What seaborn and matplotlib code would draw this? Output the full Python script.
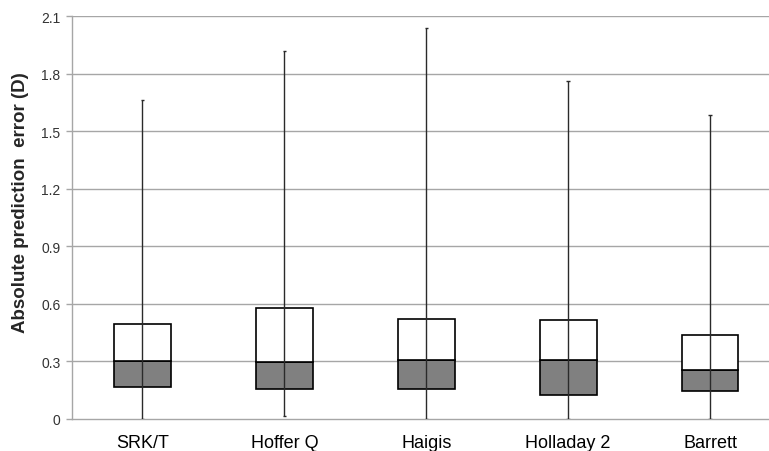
import numpy as np
import pandas as pd
import matplotlib
matplotlib.use("Agg")
import matplotlib.pyplot as plt
import seaborn as sns

categories = ["SRK/T", "Hoffer Q", "Haigis", "Holladay 2", "Barrett"]
q1 = [0.167, 0.158, 0.154, 0.125, 0.146]
median = [0.300, 0.295, 0.307, 0.307, 0.258]
q3 = [0.496, 0.581, 0.524, 0.515, 0.440]
mins = [0.0, 0.014, 0.0, 0.0, 0.0]
maxs = [1.661, 1.917, 2.037, 1.763, 1.585]
yticks = [0, 0.3, 0.6, 0.9, 1.2, 1.5, 1.8, 2.1]
ytick_labels = ["0", "0.3", "0.6", "0.9", "1.2", "1.5", "1.8", "2.1"]

df = pd.DataFrame({"method": categories, "q1": q1, "median": median,
                   "q3": q3, "min": mins, "max": maxs})
df["lower"] = df["median"] - df["q1"]
df["upper"] = df["q3"] - df["median"]

sns.set_style("white")
plt.rcParams["font.family"] = ["Liberation Sans", "DejaVu Sans"]

fig = plt.figure(figsize=(7.69, 4.52), dpi=100)
ax = fig.add_axes([0.093, 0.0708, 0.9226, 0.891])

grid_c = "#a6a6a6"
for yv in yticks[1:]:
    ax.axhline(yv, color=grid_c, lw=1.0, zorder=0)

sns.barplot(data=df, x="method", y="lower", bottom=df["q1"].to_numpy(),
            color="#808080", edgecolor="black", linewidth=1.2, width=0.4,
            saturation=1, errorbar=None, ax=ax, zorder=2)
sns.barplot(data=df, x="method", y="upper", bottom=df["median"].to_numpy(),
            color="white", edgecolor="black", linewidth=1.2, width=0.4,
            saturation=1, errorbar=None, ax=ax, zorder=2)

pos = np.arange(len(categories))
ax.vlines(pos, df["min"], df["max"], color="#2a2a2a", lw=1.0, zorder=3)
ax.hlines(df["max"], pos - 0.012, pos + 0.012, color="#2a2a2a", lw=1.0, zorder=3)
ax.hlines(df["min"], pos - 0.012, pos + 0.012, color="#2a2a2a", lw=1.0, zorder=3)

ax.set_xlim(-0.5, 4.5)
ax.set_ylim(0, 2.1)
ax.set_yticks(yticks)
ax.set_yticklabels(ytick_labels, fontsize=10, color="#333333")
ax.set_xticks(pos)
ax.set_xticklabels(categories, fontsize=13, color="black")
ax.set_xticks(np.arange(-0.5, 5.0, 1.0), minor=True)
ax.tick_params(axis="x", which="major", length=0, pad=11)
ax.tick_params(axis="x", which="minor", length=5, color=grid_c, width=1)
ax.tick_params(axis="y", which="major", length=4, color=grid_c, width=1, pad=4, left=True)

ax.set_xlabel("")
ax.set_ylabel("Absolute prediction  error (D)", fontsize=13.5, fontweight="bold")
ax.yaxis.set_label_coords(-0.06, 0.54)

for s in ["top", "right"]:
    ax.spines[s].set_visible(False)
for s in ["left", "bottom"]:
    ax.spines[s].set_color(grid_c)
    ax.spines[s].set_linewidth(1.0)

fig.savefig("out.png", dpi=100)
